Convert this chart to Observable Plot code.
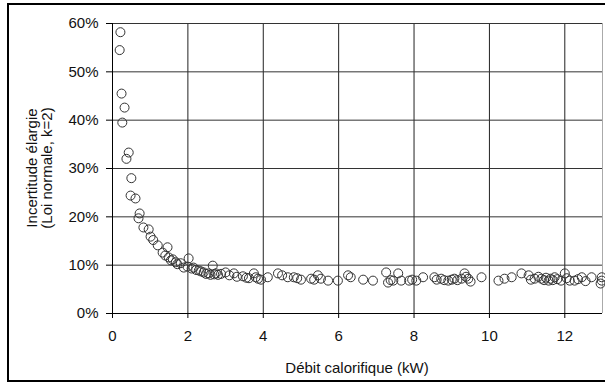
<!DOCTYPE html>
<html><head><meta charset="utf-8">
<script src="https://cdn.jsdelivr.net/npm/d3@7"></script>
<script src="https://cdn.jsdelivr.net/npm/@observablehq/plot@0.6"></script>
<style>body{margin:0;background:#fff}#chart{width:605px;height:383px;overflow:hidden}</style>
</head><body><div id="chart"></div>
<script>
const powerKW = [0.21,0.19,0.24,0.32,0.26,0.43,0.37,0.5,0.48,0.61,0.72,0.69,0.82,0.96,1.01,1.08,1.2,1.33,1.46,1.4,1.49,1.55,1.6,1.68,1.72,1.81,1.89,2.02,1.99,2.1,2.15,2.22,2.29,2.35,2.42,2.48,2.55,2.6,2.66,2.7,2.74,2.8,2.88,3.0,3.1,3.22,3.3,3.46,3.55,3.62,3.75,3.8,3.86,3.94,4.12,4.39,4.5,4.65,4.81,4.9,5.0,5.27,5.35,5.45,5.53,5.72,5.98,6.25,6.32,6.65,6.91,7.26,7.31,7.38,7.45,7.58,7.66,7.87,7.95,8.06,8.24,8.54,8.6,8.72,8.8,8.91,9.0,9.07,9.15,9.26,9.34,9.38,9.44,9.5,9.79,10.24,10.4,10.59,10.85,11.04,11.1,11.2,11.3,11.38,11.45,11.5,11.57,11.62,11.68,11.73,11.8,11.9,12.0,12.05,12.13,12.26,12.35,12.45,12.55,12.71,12.98,12.98,12.95];
const uncertaintyPct = [58.2,54.5,45.5,42.6,39.5,33.3,32.0,28.0,24.4,23.8,20.7,19.7,17.8,17.4,15.9,15.2,14.1,12.6,13.7,12.0,11.6,11.0,11.2,10.6,10.2,10.4,9.5,11.4,9.7,9.3,9.5,9.0,8.9,8.7,8.5,8.2,8.3,8.0,9.9,8.1,8.3,8.0,8.2,8.5,7.9,8.3,7.6,7.7,7.4,7.3,8.3,7.5,7.2,7.0,7.5,8.3,7.9,7.5,7.5,7.3,7.0,7.2,7.0,7.9,7.2,6.8,6.8,7.9,7.5,7.0,6.8,8.5,6.4,6.9,6.8,8.3,6.8,6.8,7.0,6.8,7.5,7.5,7.0,7.2,6.9,6.8,7.0,7.2,6.9,7.2,8.3,7.6,7.2,6.6,7.5,6.8,7.2,7.5,8.3,7.9,7.0,7.2,7.6,7.2,6.9,7.4,6.8,7.2,6.9,7.5,7.1,6.8,8.3,7.3,6.8,6.8,7.1,7.5,6.7,7.5,6.8,7.5,6.2];
const xTicks = [0,2,4,6,8,10,12];
const yTicks = [0,10,20,30,40,50,60];
const xTitle = "Débit calorifique (kW)";
const yTitleLines = ["Incertitude élargie", "(Loi normale, k=2)"];

const data = powerKW.map((x, i) => ({x, y: uncertaintyPct[i]}));
const font = "'Liberation Sans', Arial, sans-serif";

const plot = Plot.plot({
  width: 605, height: 383,
  marginLeft: 112, marginRight: 3, marginTop: 23, marginBottom: 70,
  style: {fontFamily: font, fontSize: "15px", color: "#111", background: "#fff", overflow: "visible"},
  x: {domain: [0, 13]},
  y: {domain: [0, 60]},
  marks: [
    Plot.gridX(xTicks.slice(1), {stroke: "#222", strokeOpacity: 1}),
    Plot.gridY(yTicks.slice(1), {stroke: "#333", strokeOpacity: 1}),
    Plot.ruleX([13], {stroke: "#aaa"}),
    Plot.axisX(xTicks, {tickSize: 5, tickPadding: 12, label: null, stroke: "#000"}),
    Plot.axisY(yTicks, {tickSize: 6, tickPadding: 8, tickFormat: d => d + "%", label: null, stroke: "#000"}),
    Plot.ruleX([0], {stroke: "#000"}),
    Plot.ruleY([0], {stroke: "#000"}),
    Plot.dot(data, {x: "x", y: "y", r: 4.5, stroke: "#333", fill: "none", strokeWidth: 1})
  ]
});
document.getElementById("chart").append(plot);

const svg = d3.select(plot);
svg.append("text")
  .attr("x", 357).attr("y", 373)
  .attr("text-anchor", "middle")
  .attr("font-family", font).attr("font-size", 15).attr("fill", "#111")
  .text(xTitle);
yTitleLines.forEach((t, i) => {
  svg.append("text")
    .attr("transform", `translate(${37 + i * 15},168) rotate(-90)`)
    .attr("text-anchor", "middle")
    .attr("font-family", font).attr("font-size", 15).attr("fill", "#111")
    .text(t);
});
svg.append("rect")
  .attr("x", 8).attr("y", 4).attr("width", 620).attr("height", 377)
  .attr("fill", "none").attr("stroke", "#000").attr("stroke-width", 2);
</script>
</body></html>
